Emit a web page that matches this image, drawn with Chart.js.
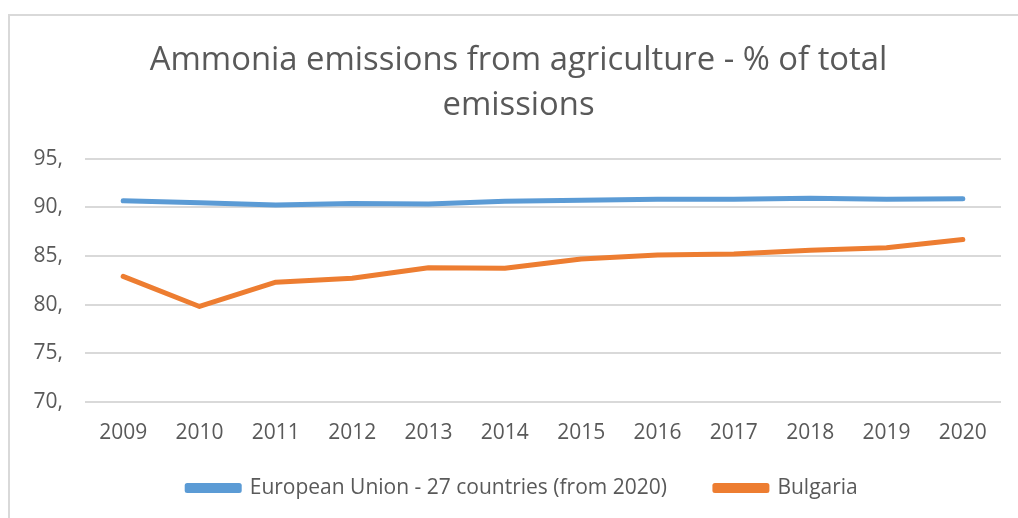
<!DOCTYPE html>
<html>
<head>
<meta charset="utf-8">
<title>Ammonia emissions from agriculture</title>
<script src="https://cdn.jsdelivr.net/npm/chart.js@4/dist/chart.umd.min.js"></script>
<style>
    html, body { margin: 0; padding: 0; background: #fff; overflow: hidden; }
    #frame {
        position: absolute; left: 8px; top: 14px; width: 2000px; height: 2000px;
        border-left: 2px solid #d9d9d9; border-top: 2px solid #d9d9d9;
    }
    #wrap { position: absolute; left: 0; top: 0; width: 1018px; height: 518px; }
</style>
</head>
<body>
<div id="frame"></div>
<div id="wrap"><canvas id="ammoniaChart" width="1018" height="518"></canvas></div>
<script>
const years = ['2009', '2010', '2011', '2012', '2013', '2014', '2015', '2016', '2017', '2018', '2019', '2020'];
const euValues = [90.7, 90.5, 90.25, 90.4, 90.35, 90.65, 90.75, 90.85, 90.85, 90.95, 90.85, 90.9];
const bulgariaValues = [82.9, 79.8, 82.3, 82.7, 83.8, 83.75, 84.7, 85.1, 85.2, 85.6, 85.85, 86.7];
const yTicks = [70, 75, 80, 85, 90, 95];

const textColor = '#595959';
const gridColor = '#d9d9d9';
const fontFamily = "'Open Sans', 'Noto Sans', sans-serif";

// the chart frame runs past the right edge, so title and legend sit a bit right of the plot centre;
// the legend is also pulled up closer to the axis labels
const shiftBlocks = {
    id: 'shiftBlocks',
    afterLayout(chart) {
        if (chart.titleBlock) { chart.titleBlock.left += 18; chart.titleBlock.right += 18; }
        if (chart.legend) {
            chart.legend.left += 22; chart.legend.right += 22;
            chart.legend.top -= 34; chart.legend.bottom -= 34;
        }
    }
};

const ctx = document.getElementById('ammoniaChart').getContext('2d');
new Chart(ctx, {
    type: 'line',
    data: {
        labels: years,
        datasets: [{
            label: 'European Union - 27 countries (from 2020)',
            data: euValues,
            borderColor: '#5b9bd5',
            backgroundColor: '#5b9bd5',
            borderWidth: 5,
            borderCapStyle: 'round',
            borderJoinStyle: 'round',
            pointRadius: 0,
            tension: 0
        }, {
            label: 'Bulgaria',
            data: bulgariaValues,
            borderColor: '#ed7d31',
            backgroundColor: '#ed7d31',
            borderWidth: 5,
            borderCapStyle: 'round',
            borderJoinStyle: 'round',
            pointRadius: 0,
            tension: 0
        }]
    },
    options: {
        responsive: false,
        animation: false,
        layout: { padding: { top: 14, right: 17, bottom: -18, left: 0 } },
        plugins: {
            title: {
                display: true,
                text: ['Ammonia emissions from agriculture - % of total', 'emissions'],
                color: textColor,
                font: { family: fontFamily, size: 32.8, weight: 'normal', lineHeight: 1.37 },
                padding: { top: 24, bottom: 31.1 }
            },
            legend: {
                position: 'bottom',
                maxHeight: 72.4,
                labels: {
                    color: textColor,
                    font: { family: fontFamily, size: 21 },
                    boxWidth: 52,
                    boxHeight: 5,
                    padding: 48
                }
            },
            tooltip: { enabled: false }
        },
        scales: {
            x: {
                offset: true,
                grid: { display: false, drawTicks: false },
                border: { display: false },
                ticks: { color: textColor, font: { family: fontFamily, size: 21 }, padding: 18.4, maxRotation: 0 }
            },
            y: {
                min: 70,
                max: 95,
                afterBuildTicks: scale => { scale.ticks = yTicks.map(v => ({ value: v })); },
                afterFit: scale => { scale.width = 85; },
                grid: { color: gridColor, lineWidth: 2, drawTicks: false },
                border: { display: false },
                ticks: {
                    color: textColor,
                    font: { family: fontFamily, size: 21 },
                    padding: 22,
                    callback: v => v + ','
                }
            }
        }
    },
    plugins: [shiftBlocks]
});
</script>
</body>
</html>
